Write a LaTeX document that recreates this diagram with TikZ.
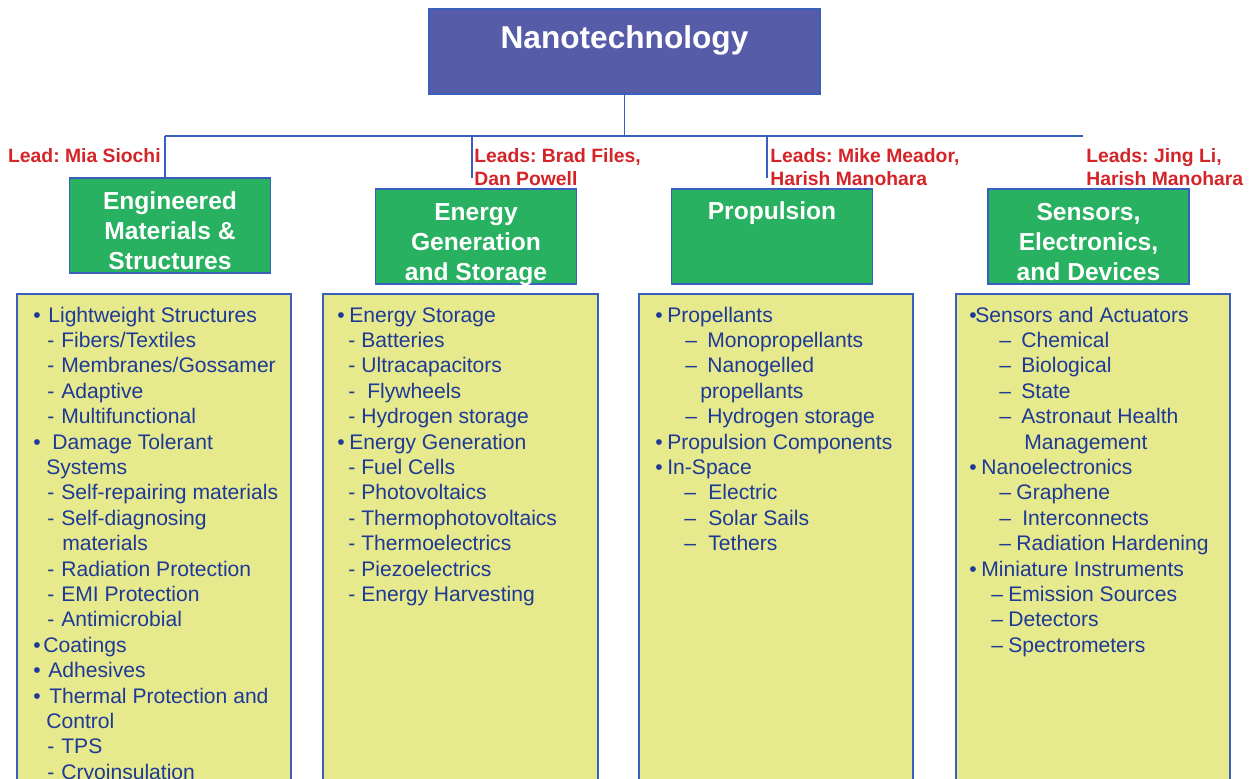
\documentclass[tikz,border=0pt]{standalone}
\usepackage{fontspec}
\setmainfont{Liberation Sans}
\frenchspacing
\definecolor{nanofill}{RGB}{86,92,168}
\definecolor{edgeblue}{RGB}{58,96,190}
\definecolor{topicgreen}{RGB}{39,177,96}
\definecolor{listyellow}{RGB}{230,233,140}
\definecolor{itemnavy}{RGB}{30,58,150}
\definecolor{leadred}{RGB}{212,36,40}
\tikzset{
  linkline/.style={draw=edgeblue, line width=0.9pt},
  topbox/.style={draw=edgeblue, fill=nanofill, text=white, line width=0.9pt,
    font=\fontsize{18}{21}\selectfont\bfseries, inner sep=0pt,
    minimum width=7.82cm, minimum height=1.7cm, text height=0.78cm, text depth=0.92cm},
  topic/.style={draw=edgeblue, fill=topicgreen, text=white, line width=0.9pt,
    font=\fontsize{14}{17}\selectfont\bfseries, align=center, inner sep=0pt,
    minimum width=4.02cm, minimum height=1.9cm, text height=1.83cm, text depth=0.07cm},
  leads/.style={text=leadred, font=\fontsize{11}{12.9}\selectfont\bfseries,
    align=left, inner sep=0pt},
  listbox/.style={draw=edgeblue, fill=listyellow, line width=0.9pt},
  itemtext/.style={text=itemnavy, font=\fontsize{12}{14.4}\selectfont,
    anchor=base west, inner sep=0pt},
}
\begin{document}
\begin{tikzpicture}[x=0.02cm, y=-0.02cm]
    \clip (0,0) rectangle (1251,778);
    % top of the chart
    \node[topbox] (nano) at (624.5,51.5) {Nanotechnology};
    \node[topic] (ems) at (170,225.5) {Engineered\\Materials \&\\Structures};
    \node[topic] (energy) at (476,236.5) {Energy\\Generation\\and Storage};
    \node[topic, text height=0.6cm, text depth=1.3cm] (prop) at (772,236.5) {Propulsion};
    \node[topic] (sensors) at (1088.5,236.5) {Sensors,\\Electronics,\\and Devices};
    \coordinate (busL) at (165,136);
    \coordinate (busR) at (1083,136);
    \coordinate (drop2) at (472,178);
    \coordinate (drop3) at (767,178);
    \draw[linkline] (nano.south) -- (nano.south |- busL);
    \draw[linkline] (busL) -- (busR);
    \draw[linkline] (busL) -- (busL |- ems.north);
    \draw[linkline] (drop2 |- busL) -- (drop2);
    \draw[linkline] (drop3 |- busL) -- (drop3);
    \node[leads, anchor=base east] (leadems) at (161,162) {Lead: Mia Siochi};
    \node[leads, anchor=north west] (leadenergy) at (474,148) {Leads: Brad Files,\\Dan Powell};
    \node[leads, anchor=north west] (leadprop) at (770,148) {Leads: Mike Meador,\\Harish Manohara};
    \node[leads, anchor=north west] (leadsensors) at (1086,148) {Leads: Jing Li,\\Harish Manohara};
    % the four lists
    \draw[listbox] (17,294) rectangle (291,800);
    \draw[listbox] (323,294) rectangle (598,800);
    \draw[listbox] (639,294) rectangle (913,800);
    \draw[listbox] (956,294) rectangle (1230,800);
    \foreach \k/\mx/\m/\tx/\t in {0/33/•/48/Lightweight Structures, 1/47/-/61/{Fibers/Textiles},
        2/47/-/61/{Membranes/Gossamer}, 3/47/-/61/Adaptive, 4/47/-/61/Multifunctional,
        5/33/•/52/Damage Tolerant, 6/33/{}/46/Systems, 7/47/-/61/Self-repairing materials,
        8/47/-/61/Self-diagnosing, 9/47/{}/62/materials, 10/47/-/61/Radiation Protection,
        11/47/-/61/EMI Protection, 12/47/-/61/Antimicrobial, 13/33/•/43/Coatings,
        14/33/•/48/Adhesives, 15/33/•/49/Thermal Protection and, 16/33/{}/46/Control,
        17/47/-/61/TPS, 18/47/-/61/Cryoinsulation}{
      \node[itemtext] (emsm\k) at (\mx,{322+25.4*\k}) {\m};
      \node[itemtext] (emst\k) at (\tx,{322+25.4*\k}) {\t};
    }
    \foreach \k/\mx/\m/\tx/\t in {0/337/•/349/Energy Storage, 1/348/-/361/Batteries,
        2/348/-/361/Ultracapacitors, 3/348/-/367/Flywheels, 4/348/-/361/Hydrogen storage,
        5/337/•/349/Energy Generation, 6/348/-/361/Fuel Cells, 7/348/-/361/Photovoltaics,
        8/348/-/361/Thermophotovoltaics, 9/348/-/361/Thermoelectrics,
        10/348/-/361/Piezoelectrics, 11/348/-/361/Energy Harvesting}{
      \node[itemtext] (energym\k) at (\mx,{322+25.4*\k}) {\m};
      \node[itemtext] (energyt\k) at (\tx,{322+25.4*\k}) {\t};
    }
    \foreach \k/\mx/\m/\tx/\t in {0/655/•/667/Propellants, 1/685/–/707/Monopropellants,
        2/685/–/707/Nanogelled, 3/685/{}/700/propellants, 4/685/–/707/Hydrogen storage,
        5/655/•/667/Propulsion Components, 6/655/•/667/In-Space, 7/684/–/708/Electric,
        8/684/–/708/Solar Sails, 9/684/–/708/Tethers}{
      \node[itemtext] (propm\k) at (\mx,{322+25.4*\k}) {\m};
      \node[itemtext] (propt\k) at (\tx,{322+25.4*\k}) {\t};
    }
    \foreach \k/\mx/\m/\tx/\t in {0/969/•/975/Sensors and Actuators, 1/999/–/1021/Chemical,
        2/999/–/1021/Biological, 3/999/–/1021/State, 4/999/–/1021/Astronaut Health,
        5/999/{}/1024/Management, 6/969/•/981/Nanoelectronics, 7/999/–/1016/Graphene,
        8/999/–/1022/Interconnects, 9/999/–/1016/Radiation Hardening,
        10/969/•/981/Miniature Instruments, 11/991/–/1008/Emission Sources,
        12/991/–/1008/Detectors, 13/991/–/1008/Spectrometers}{
      \node[itemtext] (sensorsm\k) at (\mx,{322+25.4*\k}) {\m};
      \node[itemtext] (sensorst\k) at (\tx,{322+25.4*\k}) {\t};
    }
\end{tikzpicture}
\end{document}
